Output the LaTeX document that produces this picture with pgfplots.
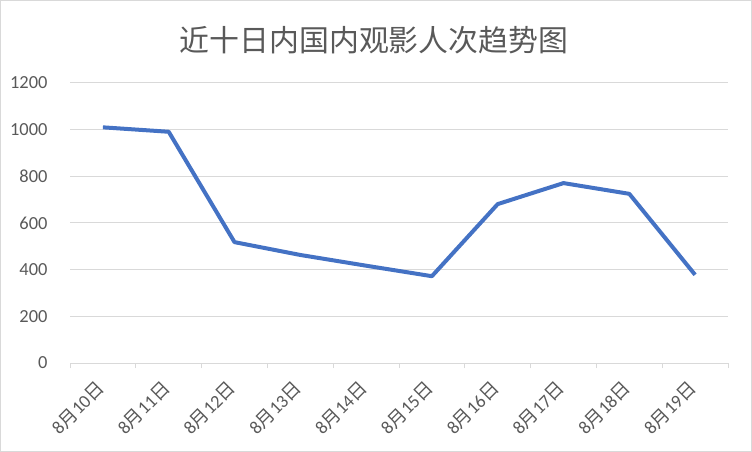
\documentclass[border=0pt]{standalone}
\usepackage{pgfplots}
\pgfplotsset{compat=1.18}
\usepackage{fontspec}
\setmainfont{Carlito}
\newfontfamily\cjk{Noto Sans CJK SC}
\definecolor{linecol}{HTML}{4472C4}
\definecolor{gridcol}{HTML}{D9D9D9}
\definecolor{txtcol}{HTML}{595959}
\newcommand{\dl}[1]{8{\cjk 月}#1{\cjk 日}}
\begin{document}
\begin{tikzpicture}
\useasboundingbox (0,0) rectangle (752bp,452bp);
\draw[gridcol, line width=1bp] (0.5bp,0.5bp) rectangle (751.5bp,451.5bp);
\node[text=txtcol, font=\cjk\fontsize{30}{34}\selectfont] at (374bp,412bp) {近十日内国内观影人次趋势图};
\begin{axis}[
  at={(70bp,89bp)}, anchor=south west,
  scale only axis, width=658bp, height=280bp,
  xmin=-0.5, xmax=9.5, ymin=0, ymax=1200,
  ytick={0,200,...,1200},
  xtick={-0.5,0.5,...,9.5},
  x tick label as interval,
  xticklabels={\dl{10},\dl{11},\dl{12},\dl{13},\dl{14},\dl{15},\dl{16},\dl{17},\dl{18},\dl{19}},
  xtick style={draw=gridcol, line width=1bp},
  major tick length=5bp, tick align=outside,
  xtick pos=bottom,
  ymajorgrids, grid style={gridcol, line width=1bp},
  axis x line*=bottom, axis y line*=left,
  x axis line style={gridcol, line width=1bp, -},
  y axis line style={draw=none},
  ytick style={draw=none},
  tick label style={text=txtcol, font=\fontsize{18.5}{20}\selectfont},
  /pgf/number format/assume math mode=true,
  /pgf/number format/1000 sep={},
  yticklabel style={anchor=east, xshift=-14bp},
  xticklabel style={xshift=-2bp, yshift=-17bp, rotate=45, anchor=east, inner sep=0pt},
  clip=false,
]
\addplot[linecol, line width=4bp, line join=round] coordinates {
(0,1010) (1,991) (2,518) (3,463) (4,417) (5,372) (6,681) (7,771) (8,725) (9,378)
};
\end{axis}
\end{tikzpicture}
\end{document}
